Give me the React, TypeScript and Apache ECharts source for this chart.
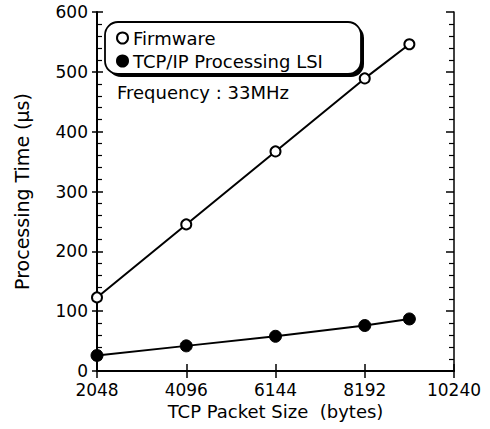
import React, { useEffect, useRef } from "react";
import * as echarts from "echarts";

const packetSizes = [2048, 4096, 6144, 8192, 9216];
const firmwareTime = [123, 245, 367, 489, 546];
const lsiTime = [26, 42, 58, 76, 87];
const xTicks = [2048, 4096, 6144, 8192, 10240];
const yTicks = [0, 100, 200, 300, 400, 500, 600];

const FONT = "DejaVu Sans";

export default function App() {
  const ref = useRef<HTMLDivElement>(null);
  useEffect(() => {
    if (!ref.current) return;
    const chart = echarts.init(ref.current, undefined, { renderer: "svg" });
    const xMin = xTicks[0];
    const xMax = xTicks[xTicks.length - 1];
    const xInt = xTicks[1] - xTicks[0];
    const yMin = yTicks[0];
    const yMax = yTicks[yTicks.length - 1];
    const yInt = yTicks[1] - yTicks[0];
    const fw = packetSizes.map((x, i) => [x, firmwareTime[i]]);
    const lsi = packetSizes.map((x, i) => [x, lsiTime[i]]);
    chart.setOption({
      animation: false,
      backgroundColor: "#fff",
      textStyle: { fontFamily: FONT, color: "#000" },
      grid: { left: 97, top: 12, right: 36, bottom: 58, containLabel: false },
      xAxis: [
        {
          type: "value",
          position: "bottom",
          min: xMin,
          max: xMax,
          interval: xInt,
          name: "TCP Packet Size  (bytes)",
          nameLocation: "middle",
          nameGap: 31,
          nameTextStyle: { fontFamily: FONT, fontSize: 18, color: "#000" },
          axisLine: { show: true, lineStyle: { color: "#000", width: 2 } },
          axisTick: { show: true, inside: true, length: 7, lineStyle: { color: "#000", width: 1.5 } },
          axisLabel: {
            fontFamily: FONT,
            fontSize: 17,
            color: "#000",
            margin: 10,
            formatter: (v: number) => String(v),
          },
          splitLine: { show: false },
        },
        {
          type: "value",
          position: "top",
          min: xMin,
          max: xMax,
          interval: xInt,
          axisLine: { show: true, lineStyle: { color: "#000", width: 1.5 } },
          axisTick: { show: true, inside: true, length: 7, lineStyle: { color: "#000", width: 1.5 } },
          axisLabel: { show: false },
          splitLine: { show: false },
        },
      ],
      yAxis: [
        {
          type: "value",
          position: "left",
          min: yMin,
          max: yMax,
          interval: yInt,
          name: "Processing Time (μs)",
          nameLocation: "middle",
          nameGap: 66,
          nameTextStyle: { fontFamily: FONT, fontSize: 19, color: "#000" },
          axisLine: { show: true, lineStyle: { color: "#000", width: 2 } },
          axisTick: { show: true, inside: true, length: 6, lineStyle: { color: "#000", width: 1.5 } },
          minorTick: { show: true, splitNumber: 5, length: 5, lineStyle: { color: "#000", width: 1.2 } },
          axisLabel: {
            fontFamily: FONT,
            fontSize: 17,
            color: "#000",
            margin: 9,
            formatter: (v: number) => String(v),
          },
          splitLine: { show: false },
        },
        {
          type: "value",
          position: "left",
          offset: 0,
          min: yMin,
          max: yMax,
          interval: yInt,
          axisLine: { show: false },
          axisTick: { show: true, inside: false, length: 5, lineStyle: { color: "#000", width: 1.5 } },
          axisLabel: { show: false },
          splitLine: { show: false },
        },
        {
          type: "value",
          position: "right",
          min: yMin,
          max: yMax,
          interval: yInt,
          axisLine: { show: true, lineStyle: { color: "#000", width: 1.5 } },
          axisTick: { show: true, inside: true, length: 8, lineStyle: { color: "#000", width: 1.5 } },
          minorTick: { show: true, splitNumber: 5, length: 5, lineStyle: { color: "#000", width: 1.2 } },
          axisLabel: { show: false },
          splitLine: { show: false },
        },
      ],
      legend: {
        orient: "vertical",
        left: 116,
        top: 29,
        padding: 0,
        itemGap: 5,
        itemWidth: 11,
        itemHeight: 11,
        icon: "circle",
        z: 5,
        textStyle: { fontFamily: FONT, fontSize: 18, color: "#000", padding: [0, 0, 0, 0] },
        data: ["Firmware", "TCP/IP Processing LSI"],
      },
      graphic: [
        {
          type: "rect",
          z: 3,
          shape: { x: 108, y: 25, width: 256, height: 52, r: 13 },
          style: { fill: "#000" },
        },
        {
          type: "rect",
          z: 3,
          shape: { x: 105, y: 22, width: 256, height: 52, r: 13 },
          style: { fill: "#fff", stroke: "#000", lineWidth: 1.8 },
        },
        {
          type: "text",
          z: 5,
          x: 117,
          y: 92,
          style: {
            text: "Frequency : 33MHz",
            fontFamily: FONT,
            fontSize: 18,
            fill: "#000",
            verticalAlign: "middle",
          },
        },
      ],
      series: [
        {
          name: "Firmware",
          type: "line",
          xAxisIndex: 0,
          yAxisIndex: 0,
          data: fw,
          symbol: "circle",
          symbolSize: 10,
          lineStyle: { color: "#000", width: 2 },
          itemStyle: { color: "#fff", borderColor: "#000", borderWidth: 2 },
          z: 2,
        },
        {
          name: "TCP/IP Processing LSI",
          type: "line",
          xAxisIndex: 0,
          yAxisIndex: 0,
          data: lsi,
          symbol: "circle",
          symbolSize: 12,
          lineStyle: { color: "#000", width: 2 },
          itemStyle: { color: "#000", borderColor: "#000", borderWidth: 1 },
          z: 2,
        },
      ],
    });
    return () => chart.dispose();
  }, []);
  return (
    <div
      ref={ref}
      style={{ position: "fixed", left: 0, top: 0, width: 490, height: 429, background: "#fff" }}
    />
  );
}
